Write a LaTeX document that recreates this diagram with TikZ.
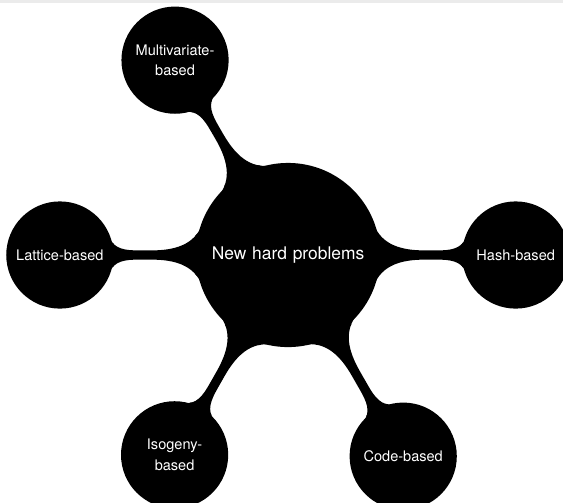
\documentclass[tikz,border=0pt]{standalone}
\usepackage{fontspec}
\setmainfont{TeX Gyre Heros}
\setsansfont{TeX Gyre Heros}
\usetikzlibrary{mindmap,backgrounds}
\begin{document}
\begin{tikzpicture}[mindmap, concept color=black, text=white,
  rootc/.style={concept, minimum size=4.05cm, text width=3.6cm, align=center, inner sep=0pt,
    font=\sffamily\fontsize{11}{13}\selectfont},
  leafc/.style={concept, minimum size=2.34cm, text width=2.1cm, align=center, inner sep=0pt,
    font=\sffamily\fontsize{9.2}{13}\selectfont},
  bar/.style={circle connection bar switch color=from (black) to (black)}]
\useasboundingbox (-6.4,-5.489) rectangle (6.111,5.667);
\fill[black!8] (-6.4,5.6) rectangle (6.111,5.667);
\node[rootc] (root) at (0,0) {New hard problems};
\node[leafc] (mv) at (-2.51,4.33) {Multivariate-\\based};
\node[leafc] (lat) at (-5.07,0) {Lattice-based};
\node[leafc] (hash) at (5.06,0) {Hash-based};
\node[leafc] (iso) at (-2.52,-4.44) {Isogeny-\\based};
\node[leafc] (code) at (2.56,-4.47) {Code-based};
\begin{pgfonlayer}{background}
\path (root) to[bar] (mv);
\path (root) to[bar] (lat);
\path (root) to[bar] (hash);
\path (root) to[bar] (iso);
\path (root) to[bar] (code);
\end{pgfonlayer}
\end{tikzpicture}
\end{document}
